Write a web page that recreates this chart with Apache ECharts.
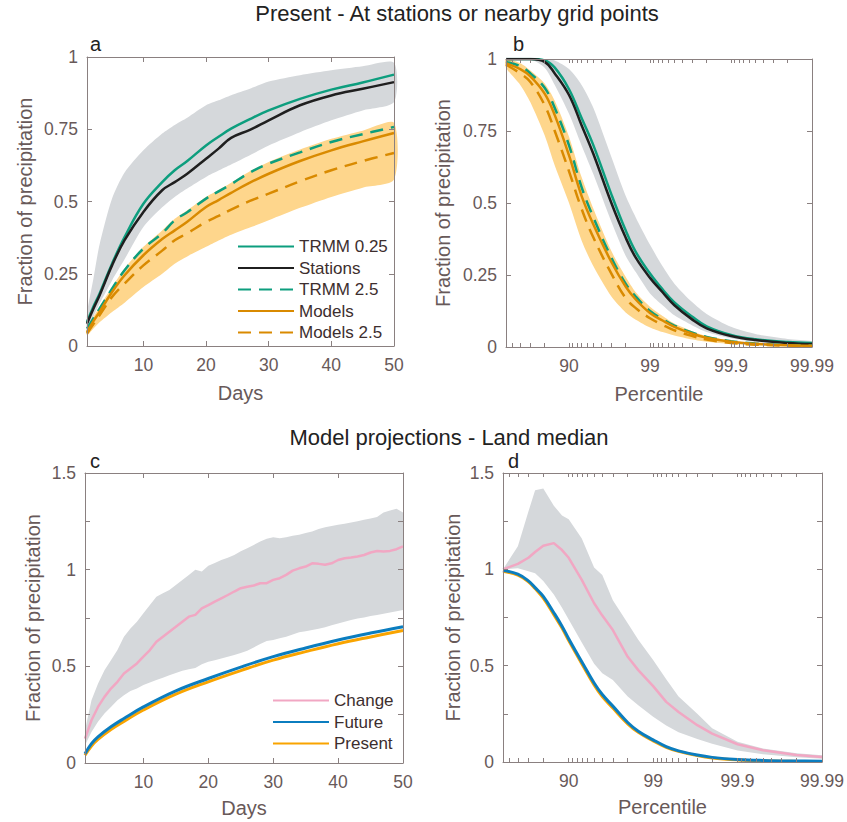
<!DOCTYPE html>
<html>
<head>
<meta charset="utf-8">
<script src="https://cdn.jsdelivr.net/npm/echarts@6.0.0/dist/echarts.min.js"></script>
<style>html,body{margin:0;padding:0;background:#fff}#chart{width:847px;height:822px}</style>
</head>
<body>
<div id="chart"></div>
<script>
// ---------------- DATA ----------------
// Panel a: cumulative fraction of precipitation vs wettest days
const aDays = [1, 2, 3, 5, 7, 10, 13, 15, 17, 20, 22, 24, 27, 30, 35, 40, 45, 50];
const aTrmm025 = [0.083, 0.135, 0.181, 0.285, 0.377, 0.492, 0.567, 0.608, 0.64, 0.694, 0.724, 0.752, 0.785, 0.815, 0.855, 0.887, 0.912, 0.939];
const aStations = [0.077, 0.128, 0.175, 0.279, 0.366, 0.464, 0.539, 0.567, 0.596, 0.648, 0.683, 0.72, 0.748, 0.781, 0.833, 0.867, 0.89, 0.913];
const aTrmm25 = [0.06, 0.095, 0.129, 0.198, 0.262, 0.337, 0.39, 0.435, 0.463, 0.51, 0.535, 0.56, 0.6, 0.631, 0.67, 0.706, 0.733, 0.758];
const aModels = [0.048, 0.085, 0.118, 0.187, 0.245, 0.314, 0.37, 0.40, 0.43, 0.481, 0.505, 0.53, 0.565, 0.596, 0.64, 0.677, 0.708, 0.737];
const aModels25 = [0.043, 0.075, 0.106, 0.17, 0.216, 0.279, 0.33, 0.366, 0.39, 0.429, 0.45, 0.472, 0.502, 0.527, 0.57, 0.608, 0.64, 0.668];
const aGreyHigh = [0.112, 0.23, 0.35, 0.51, 0.6, 0.677, 0.735, 0.765, 0.79, 0.833, 0.85, 0.868, 0.89, 0.915, 0.937, 0.954, 0.968, 0.98];
const aGreyLow = [0.048, 0.1, 0.146, 0.227, 0.3, 0.412, 0.48, 0.516, 0.545, 0.585, 0.607, 0.628, 0.66, 0.694, 0.74, 0.781, 0.815, 0.844];
const aOrangeHigh = [0.06, 0.1, 0.136, 0.204, 0.268, 0.343, 0.4, 0.44, 0.47, 0.516, 0.54, 0.565, 0.605, 0.637, 0.68, 0.717, 0.745, 0.772];
const aOrangeLow = [0.037, 0.06, 0.082, 0.118, 0.15, 0.204, 0.25, 0.285, 0.31, 0.343, 0.365, 0.385, 0.41, 0.435, 0.478, 0.516, 0.548, 0.576];

// Panel b: x = 100 - percentile (log axis, reversed)
const bExceed = [60, 40, 30, 20, 15, 10, 7, 5, 3, 2, 1.5, 1, 0.7, 0.5, 0.3, 0.2, 0.1, 0.05, 0.02, 0.01];
const bTrmm025 = [1, 1, 1, 0.995, 0.97, 0.895, 0.795, 0.7, 0.53, 0.405, 0.33, 0.255, 0.2, 0.155, 0.105, 0.072, 0.042, 0.027, 0.017, 0.014];
const bStations = [1, 1, 1, 0.99, 0.95, 0.875, 0.77, 0.67, 0.5, 0.38, 0.31, 0.24, 0.19, 0.145, 0.095, 0.065, 0.038, 0.024, 0.014, 0.01];
const bTrmm25 = [0.99, 0.975, 0.95, 0.9, 0.83, 0.7, 0.555, 0.45, 0.31, 0.22, 0.175, 0.125, 0.097, 0.074, 0.05, 0.035, 0.02, 0.012, 0.007, 0.005];
const bModels = [0.985, 0.965, 0.94, 0.88, 0.805, 0.665, 0.525, 0.425, 0.295, 0.21, 0.165, 0.118, 0.092, 0.07, 0.046, 0.032, 0.018, 0.011, 0.006, 0.004];
const bModels25 = [0.98, 0.95, 0.92, 0.84, 0.75, 0.61, 0.48, 0.38, 0.255, 0.17, 0.135, 0.1, 0.077, 0.058, 0.038, 0.026, 0.014, 0.008, 0.005, 0.003];
const bGreyHigh = [1, 1, 1, 1, 0.995, 0.965, 0.91, 0.83, 0.66, 0.525, 0.45, 0.355, 0.28, 0.22, 0.155, 0.115, 0.07, 0.045, 0.028, 0.02];
const bGreyLow = [1, 1, 1, 0.97, 0.91, 0.81, 0.70, 0.60, 0.435, 0.317, 0.26, 0.186, 0.145, 0.11, 0.075, 0.052, 0.03, 0.018, 0.01, 0.007];
const bOrangeHigh = [1, 0.985, 0.96, 0.915, 0.855, 0.73, 0.59, 0.48, 0.333, 0.244, 0.19, 0.14, 0.108, 0.082, 0.055, 0.038, 0.022, 0.013, 0.008, 0.006];
const bOrangeLow = [0.97, 0.91, 0.85, 0.735, 0.63, 0.5, 0.37, 0.28, 0.175, 0.12, 0.095, 0.068, 0.052, 0.04, 0.026, 0.018, 0.01, 0.006, 0.003, 0.002];

// Panel c: model projections vs days
const cDays = [1, 2, 3, 4, 5, 6, 7, 8, 9, 10, 11, 12, 13, 14, 15, 16, 17, 18, 19, 20, 21, 22, 23, 24, 25, 26, 27, 28, 29, 30, 31, 32, 33, 34, 35, 36, 37, 38, 39, 40, 41, 42, 43, 44, 45, 46, 47, 48, 49, 50];
const cChange = [0.126, 0.221, 0.29, 0.342, 0.385, 0.42, 0.463, 0.489, 0.515, 0.55, 0.584, 0.627, 0.653, 0.679, 0.705, 0.731, 0.757, 0.766, 0.8, 0.817, 0.835, 0.852, 0.869, 0.887, 0.904, 0.912, 0.918, 0.93, 0.93, 0.947, 0.956, 0.973, 0.995, 1.007, 1.016, 1.033, 1.03, 1.025, 1.033, 1.05, 1.059, 1.063, 1.068, 1.076, 1.089, 1.097, 1.094, 1.097, 1.106, 1.12];
const cGreyHigh = [0.17, 0.325, 0.41, 0.48, 0.532, 0.584, 0.653, 0.696, 0.731, 0.774, 0.817, 0.86, 0.878, 0.895, 0.921, 0.947, 0.973, 0.999, 0.99, 1.02, 1.035, 1.05, 1.062, 1.076, 1.095, 1.111, 1.128, 1.146, 1.16, 1.168, 1.163, 1.168, 1.175, 1.18, 1.19, 1.198, 1.21, 1.22, 1.226, 1.232, 1.238, 1.244, 1.25, 1.258, 1.265, 1.272, 1.296, 1.306, 1.315, 1.296];
const cGreyLow = [0.092, 0.16, 0.213, 0.256, 0.29, 0.325, 0.351, 0.373, 0.385, 0.403, 0.416, 0.429, 0.441, 0.454, 0.465, 0.477, 0.485, 0.492, 0.511, 0.524, 0.532, 0.541, 0.55, 0.558, 0.569, 0.58, 0.598, 0.615, 0.631, 0.636, 0.645, 0.653, 0.665, 0.676, 0.682, 0.688, 0.695, 0.702, 0.712, 0.722, 0.731, 0.74, 0.747, 0.753, 0.76, 0.766, 0.772, 0.778, 0.785, 0.792];
const cLineDays = [1, 2, 3, 5, 7, 10, 15, 20, 25, 30, 35, 40, 45, 50];
const cFuture = [0.048, 0.1, 0.135, 0.187, 0.23, 0.29, 0.373, 0.437, 0.496, 0.55, 0.595, 0.636, 0.672, 0.705];
const cPresent = [0.04, 0.088, 0.122, 0.173, 0.215, 0.274, 0.356, 0.42, 0.478, 0.532, 0.576, 0.617, 0.652, 0.685];

// Panel d: model projections vs percentile
const dExceed = [60, 40, 30, 25, 20, 15, 12, 10, 7, 5, 4, 3, 2, 1.5, 1, 0.7, 0.5, 0.3, 0.2, 0.1, 0.05, 0.02, 0.01];
const dChange = [1.0, 1.028, 1.06, 1.09, 1.122, 1.136, 1.1, 1.06, 0.945, 0.824, 0.76, 0.685, 0.546, 0.477, 0.394, 0.312, 0.26, 0.191, 0.147, 0.092, 0.061, 0.036, 0.026];
const dGreyHigh = [1.0, 1.12, 1.30, 1.41, 1.42, 1.33, 1.28, 1.26, 1.16, 1.01, 0.97, 0.84, 0.72, 0.635, 0.53, 0.43, 0.34, 0.25, 0.175, 0.105, 0.07, 0.045, 0.035];
const dGreyLow = [1.0, 1.006, 0.99, 0.98, 0.94, 0.87, 0.8, 0.74, 0.62, 0.51, 0.46, 0.425, 0.34, 0.295, 0.235, 0.19, 0.155, 0.12, 0.095, 0.06, 0.04, 0.025, 0.017];
const dFuture = [0.995, 0.975, 0.94, 0.905, 0.86, 0.775, 0.705, 0.64, 0.52, 0.41, 0.35, 0.29, 0.205, 0.16, 0.115, 0.08, 0.058, 0.036, 0.024, 0.013, 0.008, 0.005, 0.004];
const dPresent = [0.99, 0.97, 0.935, 0.9, 0.85, 0.765, 0.695, 0.63, 0.51, 0.4, 0.34, 0.28, 0.198, 0.154, 0.11, 0.076, 0.055, 0.033, 0.021, 0.011, 0.006, 0.003, 0.002];

// Tick values / labels
const dayTicks = [10, 20, 30, 40, 50];
const pctTickValues = [10, 1, 0.1, 0.01];
const pctTickLabels = ['90', '99', '99.9', '99.99'];
const pctMinorTicks = [0.01, 0.02, 0.03, 0.04, 0.05, 0.06, 0.07, 0.08, 0.09, 0.1, 0.2, 0.3, 0.4, 0.5, 0.6, 0.7, 0.8, 0.9, 1, 2, 3, 4, 5, 6, 7, 8, 9, 10, 20, 30, 40, 50];
const frac1Ticks = [0, 0.25, 0.5, 0.75, 1];
const frac15Ticks = [0, 0.25, 0.5, 0.75, 1, 1.25, 1.5];
const frac15Labels = [0, 0.5, 1, 1.5];

// ---------------- STYLE ----------------
const FONT = '"Liberation Sans", Arial, Helvetica, sans-serif';
const LABEL_COLOR = '#685959';
const AXIS_COLOR = '#8a8080';
const C = {
  green: '#0d9e7e', black: '#1f1f1f', orange: '#d98a00',
  greyBand: '#d5d8db', orangeBand: '#fed68c',
  pink: '#f1a7c3', blue: '#0b7dbf', present: '#f9a400'
};

function pairs(xs, ys) { return xs.map((x, i) => [x, ys[i]]); }

const grids = [
  { left: 87, top: 57, width: 307, height: 289 },
  { left: 506, top: 59, width: 306, height: 288 },
  { left: 85, top: 473, width: 318, height: 290 },
  { left: 503, top: 473, width: 319, height: 289 }
];

function pctFormatter(v) {
  for (let i = 0; i < pctTickValues.length; i++) {
    if (Math.abs(Math.log10(v) - Math.log10(pctTickValues[i])) < 1e-6) return pctTickLabels[i];
  }
  return '';
}

function xAxisDef(gi, kind, top, name, nameGap) {
  const base = {
    gridIndex: gi,
    position: top ? 'top' : 'bottom',
    z: 5,
    axisLine: { show: true, onZero: false, lineStyle: { color: AXIS_COLOR, width: 1 } },
    splitLine: { show: false },
    nameTextStyle: { color: LABEL_COLOR, fontSize: 20, fontFamily: FONT },
  };
  if (kind === 'days') {
    Object.assign(base, {
      type: 'value', min: 1, max: 50,
      axisTick: { inside: true, length: 5, customValues: dayTicks, lineStyle: { color: AXIS_COLOR } },
      axisLabel: { show: !top, customValues: dayTicks, margin: 10, color: LABEL_COLOR, fontSize: 17.5, fontFamily: FONT }
    });
  } else {
    Object.assign(base, {
      type: 'log', logBase: 10, min: 0.01, max: 60, inverse: true,
      axisTick: { inside: true, length: 4, customValues: pctMinorTicks, lineStyle: { color: AXIS_COLOR } },
      axisLabel: { show: !top, customValues: pctTickValues, formatter: pctFormatter, margin: 10, color: LABEL_COLOR, fontSize: 17.5, fontFamily: FONT }
    });
  }
  if (!top) { base.name = name; base.nameLocation = 'middle'; base.nameGap = nameGap; }
  return base;
}

function yAxisDef(gi, max, right, nameGap) {
  const ticks = max === 1 ? frac1Ticks : frac15Ticks;
  const labels = max === 1 ? frac1Ticks : frac15Labels;
  const base = {
    gridIndex: gi, type: 'value', min: 0, max: max, interval: 0.25,
    position: right ? 'right' : 'left',
    z: 5,
    axisLine: { show: true, onZero: false, lineStyle: { color: AXIS_COLOR, width: 1 } },
    splitLine: { show: false },
    axisTick: { inside: true, length: 5, customValues: ticks, lineStyle: { color: AXIS_COLOR } },
    axisLabel: { show: !right, customValues: labels, margin: 9, color: LABEL_COLOR, fontSize: 17.5, fontFamily: FONT },
    nameTextStyle: { color: LABEL_COLOR, fontSize: 20, fontFamily: FONT }
  };
  if (!right) { base.name = 'Fraction of precipitation'; base.nameLocation = 'middle'; base.nameGap = nameGap; }
  return base;
}

function lineSeries(name, gi, xs, ys, color, width, dashed, smooth) {
  return {
    type: 'line', name: name, xAxisIndex: gi, yAxisIndex: gi,
    data: pairs(xs, ys), symbol: 'none', showSymbol: false, smooth: smooth,
    lineStyle: { color: color, width: width, type: dashed ? [13, 8] : 'solid' },
    itemStyle: { color: color }, z: 3, silent: true
  };
}

// Shaded band drawn as a polygon through the axes' own coordinate mapping
function bandSeries(gi, xs, lo, hi, color, smooth) {
  return {
    type: 'custom', xAxisIndex: gi, yAxisIndex: gi, z: 1, silent: true,
    data: xs.map((x, i) => [x, lo[i], hi[i]]),
    encode: { x: 0, y: [1, 2] },
    renderItem: function (params, api) {
      if (params.dataIndexInside !== 0) return null;
      const n = params.dataInsideLength;
      const top = [], bot = [];
      for (let i = 0; i < n; i++) {
        top.push(api.coord([api.value(0, i), api.value(2, i)]));
        bot.push(api.coord([api.value(0, i), api.value(1, i)]));
      }
      return {
        type: 'polygon',
        shape: { points: top.concat(bot.reverse()), smooth: smooth },
        style: { fill: color, stroke: null }
      };
    }
  };
}

const series = [
  bandSeries(0, aDays, aGreyLow, aGreyHigh, C.greyBand, 0.25),
  bandSeries(0, aDays, aOrangeLow, aOrangeHigh, C.orangeBand, 0.25),
  lineSeries('TRMM 0.25', 0, aDays, aTrmm025, C.green, 2.5, false, 0.4),
  lineSeries('Stations', 0, aDays, aStations, C.black, 2.5, false, 0.4),
  lineSeries('TRMM 2.5', 0, aDays, aTrmm25, C.green, 2.5, true, 0.4),
  lineSeries('Models', 0, aDays, aModels, C.orange, 2.5, false, 0.4),
  lineSeries('Models 2.5', 0, aDays, aModels25, C.orange, 2.5, true, 0.4),

  bandSeries(1, bExceed, bGreyLow, bGreyHigh, C.greyBand, 0.25),
  bandSeries(1, bExceed, bOrangeLow, bOrangeHigh, C.orangeBand, 0.25),
  lineSeries('TRMM 0.25', 1, bExceed, bTrmm025, C.green, 2.5, false, 0.4),
  lineSeries('Stations', 1, bExceed, bStations, C.black, 2.5, false, 0.4),
  lineSeries('TRMM 2.5', 1, bExceed, bTrmm25, C.green, 2.5, true, 0.4),
  lineSeries('Models', 1, bExceed, bModels, C.orange, 2.5, false, 0.4),
  lineSeries('Models 2.5', 1, bExceed, bModels25, C.orange, 2.5, true, 0.4),

  bandSeries(2, cDays, cGreyLow, cGreyHigh, C.greyBand, 0),
  lineSeries('Change', 2, cDays, cChange, C.pink, 2.5, false, false),
  lineSeries('Present', 2, cLineDays, cPresent, C.present, 3, false, 0.4),
  lineSeries('Future', 2, cLineDays, cFuture, C.blue, 3, false, 0.4),

  bandSeries(3, dExceed, dGreyLow, dGreyHigh, C.greyBand, 0),
  lineSeries('Change', 3, dExceed, dChange, C.pink, 2.5, false, false),
  lineSeries('Present', 3, dExceed, dPresent, C.present, 3, false, 0.4),
  lineSeries('Future', 3, dExceed, dFuture, C.blue, 3, false, 0.4)
];

function legendDef(left, top, names) {
  return {
    orient: 'vertical', left: left, top: top, data: names, selectedMode: false,
    itemWidth: 56, itemHeight: 12, itemGap: 4.5, padding: 0,
    itemStyle: { opacity: 0 },
    textStyle: { fontSize: 17, lineHeight: 17, color: '#3d2e2e', fontFamily: FONT }
  };
}

function textEl(x, y, text, size, align) {
  return {
    type: 'text', x: x, y: y, silent: true,
    style: { text: text, fill: '#222', font: size + 'px ' + FONT, align: align, verticalAlign: 'middle' }
  };
}

const option = {
  animation: false,
  backgroundColor: '#fff',
  grid: grids,
  xAxis: [
    xAxisDef(0, 'days', false, 'Days', 37),
    xAxisDef(1, 'pct', false, 'Percentile', 37),
    xAxisDef(2, 'days', false, 'Days', 35),
    xAxisDef(3, 'pct', false, 'Percentile', 35),
    xAxisDef(0, 'days', true), xAxisDef(1, 'pct', true), xAxisDef(2, 'days', true), xAxisDef(3, 'pct', true)
  ],
  yAxis: [
    yAxisDef(0, 1, false, 52), yAxisDef(1, 1, false, 53), yAxisDef(2, 1.5, false, 42), yAxisDef(3, 1.5, false, 40),
    yAxisDef(0, 1, true), yAxisDef(1, 1, true), yAxisDef(2, 1.5, true), yAxisDef(3, 1.5, true)
  ],
  legend: [
    legendDef(237, 238, ['TRMM 0.25', 'Stations', 'TRMM 2.5', 'Models', 'Models 2.5']),
    legendDef(272, 692, ['Change', 'Future', 'Present'])
  ],
  graphic: [
    textEl(457, 13, 'Present - At stations or nearby grid points', 22, 'center'),
    textEl(449, 437, 'Model projections - Land median', 22, 'center'),
    textEl(90, 44, 'a', 20, 'left'),
    textEl(513, 44, 'b', 20, 'left'),
    textEl(90, 461, 'c', 20, 'left'),
    textEl(508, 461, 'd', 20, 'left')
  ],
  series: series
};

const chart = echarts.init(document.getElementById('chart'), null, { renderer: 'svg', width: 847, height: 822 });
chart.setOption(option);
</script>
</body>
</html>
